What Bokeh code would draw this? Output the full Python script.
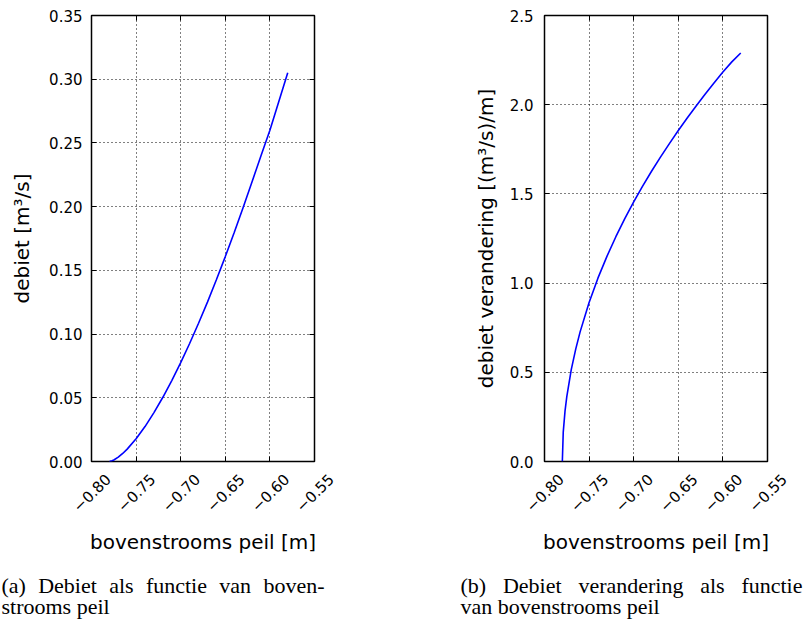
from math import pi
from bokeh.plotting import figure
from bokeh.models import FixedTicker, LinearAxis, Range1d, CustomJSTickFormatter
from bokeh.layouts import row, column
from bokeh.embed import file_html
from bokeh.resources import INLINE
from bokeh.core.properties import value

# ---- data ----
peil = [-0.780, -0.779, -0.777, -0.775, -0.770, -0.765, -0.760, -0.750, -0.740,
        -0.730, -0.720, -0.710, -0.700, -0.690, -0.680, -0.670, -0.660, -0.650,
        -0.640, -0.630, -0.620, -0.610, -0.600, -0.590, -0.580]
debiet = [0.0, 0.0001, 0.0006, 0.0012, 0.0034, 0.0063, 0.0097, 0.0178, 0.0274,
          0.0384, 0.0504, 0.0635, 0.0776, 0.0926, 0.1085, 0.1251, 0.1426, 0.1608,
          0.1797, 0.1993, 0.2195, 0.2400, 0.2600, 0.2825, 0.3050]
verandering = [0.0, 0.163, 0.282, 0.364, 0.515, 0.630, 0.728, 0.891, 1.029,
               1.150, 1.260, 1.361, 1.455, 1.544, 1.627, 1.706, 1.782, 1.855,
               1.925, 1.993, 2.058, 2.121, 2.183, 2.240, 2.290]

x_ticks = [-0.80, -0.75, -0.70, -0.65, -0.60, -0.55]
x_tick_labels = ["\u22120.80", "\u22120.75", "\u22120.70", "\u22120.65", "\u22120.60", "\u22120.55"]
ya_ticks = [0.00, 0.05, 0.10, 0.15, 0.20, 0.25, 0.30, 0.35]
ya_tick_labels = ["0.00", "0.05", "0.10", "0.15", "0.20", "0.25", "0.30", "0.35"]
yb_ticks = [0.0, 0.5, 1.0, 1.5, 2.0, 2.5]
yb_tick_labels = ["0.0", "0.5", "1.0", "1.5", "2.0", "2.5"]

x_label = "bovenstrooms peil [m]"
ya_label = "debiet [m\u00b3/s]"
yb_label = "debiet verandering [(m\u00b3/s)/m]"
# caption words (first line is justified in the reference) and their left edges in px
caption_a_line1 = ["(a)", "Debiet", "als", "functie", "van", "boven-"]
caption_a_line1_px = [1, 37.7, 108.7, 145.4, 218.8, 262.9]
caption_a_line2 = "strooms peil"
caption_b_line1 = ["(b)", "Debiet", "verandering", "als", "functie"]
caption_b_line1_px = [5, 47.4, 122.9, 244.7, 285.9]
caption_b_line2 = "van bovenstrooms peil"

SANS = "DejaVu Sans"
SERIF = "Liberation Serif"

X0, X1 = -0.80, -0.55
FRAME_W, FRAME_H = 223, 446
TOP, BOTTOM = 15, 10
STRIP_H = 149


def style_axis(ax, ticks, labels):
    ax.ticker = FixedTicker(ticks=ticks)
    ax.major_label_overrides = dict(zip(ticks, labels))
    ax.axis_line_color = None
    ax.major_tick_in = 5
    ax.major_tick_out = 0
    ax.major_tick_line_color = "black"
    ax.major_tick_line_width = 1
    ax.minor_tick_line_color = None
    ax.major_label_text_font = SANS
    ax.major_label_text_font_size = "15px"
    ax.major_label_text_color = "black"
    ax.axis_label_text_font = SANS
    ax.axis_label_text_font_size = "20px"
    ax.axis_label_text_font_style = "normal"
    ax.axis_label_text_color = "black"


def blank_axis(ticks):
    return LinearAxis(ticker=FixedTicker(ticks=ticks),
                      formatter=CustomJSTickFormatter(code="return ''"),
                      major_label_text_font_size="0px",
                      major_label_standoff=0, major_tick_in=5, major_tick_out=0,
                      major_tick_line_color="black", minor_tick_line_color=None,
                      axis_line_color=None)


def panel(y, ymax, yticks, ylabels, ylabel, bl, br, ylab_standoff, ytick_standoff):
    p = figure(frame_width=FRAME_W, frame_height=FRAME_H,
               x_range=Range1d(X0, X1), y_range=Range1d(0, ymax),
               output_backend="svg", toolbar_location=None,
               min_border_left=bl, min_border_right=br,
               min_border_top=TOP, min_border_bottom=BOTTOM,
               background_fill_color="white", border_fill_color="white")
    xa = p.xaxis[0]
    style_axis(xa, x_ticks, x_tick_labels)
    xa.formatter = CustomJSTickFormatter(code="return ''")
    xa.major_label_overrides = {}
    xa.major_label_standoff = 0
    xa.major_label_text_font_size = "0px"
    style_axis(p.yaxis[0], yticks, ylabels)
    p.yaxis[0].axis_label = ylabel
    p.yaxis[0].major_label_standoff = ytick_standoff
    p.yaxis[0].axis_label_standoff = ylab_standoff
    p.add_layout(blank_axis(yticks), "right")
    p.add_layout(blank_axis(x_ticks), "above")
    for g in (p.xgrid[0], p.ygrid[0]):
        g.grid_line_color = "black"
        g.grid_line_dash = "1 3"
        g.grid_line_width = 1
    p.outline_line_color = "black"
    p.outline_line_width = 1.5
    p.line(peil, y, line_color="#0000ff", line_width=1.6)
    return p


def strip(width, bl, words, words_px, line2):
    k = (X1 - X0) / FRAME_W
    start = X0 - bl * k
    end = start + width * k
    s = figure(width=width, height=STRIP_H, x_range=Range1d(start, end),
               y_range=Range1d(STRIP_H, 0), output_backend="svg",
               toolbar_location=None, min_border=0,
               x_axis_location=None, y_axis_location=None,
               outline_line_color=None, background_fill_color="white",
               border_fill_color="white")
    s.grid.visible = False
    # rotated tick labels, centred under their ticks
    s.text(x=x_ticks, y=[21] * len(x_ticks), text=x_tick_labels, angle=pi / 4,
           text_align="center", text_baseline="middle",
           text_font=value(SANS), text_font_size=value("15px"), text_color="black")
    # axis label
    s.text(x=[(X0 + X1) / 2], y=[70], text=[x_label], text_align="center",
           text_baseline="alphabetic", text_font=value(SANS),
           text_font_size=value("20px"), text_color="black")
    # caption
    px2x = lambda px: start + px * k
    s.text(x=[px2x(px) for px in words_px], y=[114] * len(words), text=words,
           text_align="left", text_baseline="alphabetic", text_font=value(SERIF),
           text_font_size=value("22px"), text_color="black")
    s.text(x=[px2x(words_px[0])], y=[135], text=[line2], text_align="left",
           text_baseline="alphabetic", text_font=value(SERIF),
           text_font_size=value("22px"), text_color="black")
    return s


pa = panel(debiet, 0.35, ya_ticks, ya_tick_labels, ya_label, 91, 141, 12, 9)
pb = panel(verandering, 2.5, yb_ticks, yb_tick_labels, yb_label, 89, 39, 9, 11)
sa = strip(455, 91, caption_a_line1, caption_a_line1_px, caption_a_line2)
sb = strip(351, 89, caption_b_line1, caption_b_line1_px, caption_b_line2)

layout = column(row(pa, pb), row(sa, sb))
open("out.html", "w").write(file_html(layout, INLINE))
